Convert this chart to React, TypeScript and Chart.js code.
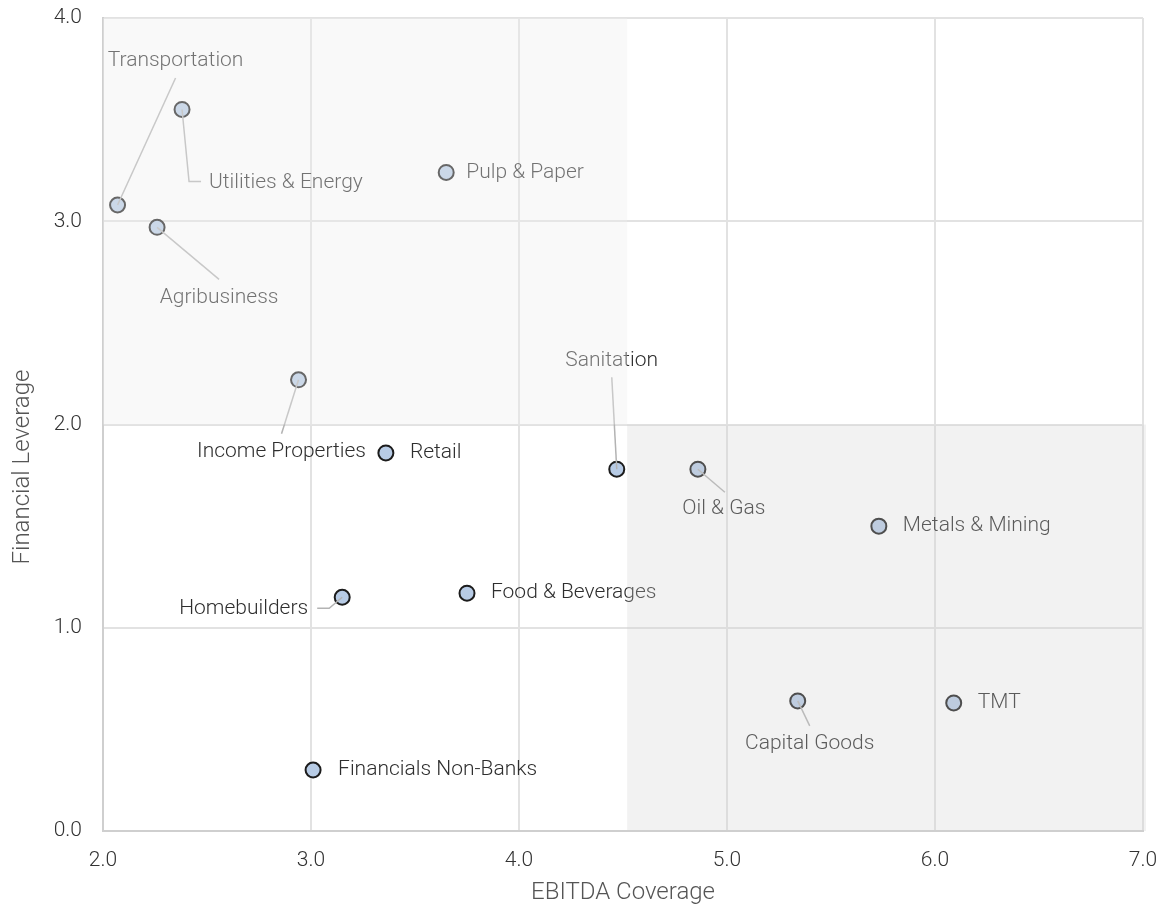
import React, { useEffect, useRef } from "react";
import { Chart, registerables } from "chart.js";

Chart.register(...registerables);

// ---- data ----
const sectors = [
  "Transportation",
  "Utilities & Energy",
  "Agribusiness",
  "Pulp & Paper",
  "Income Properties",
  "Retail",
  "Sanitation",
  "Oil & Gas",
  "Metals & Mining",
  "Homebuilders",
  "Food & Beverages",
  "Capital Goods",
  "TMT",
  "Financials Non-Banks",
];
const ebitdaCoverage = [2.07, 2.38, 2.26, 3.65, 2.94, 3.36, 4.47, 4.86, 5.73, 3.15, 3.75, 5.34, 6.09, 3.01];
const financialLeverage = [3.08, 3.55, 2.97, 3.24, 2.22, 1.86, 1.78, 1.78, 1.5, 1.15, 1.17, 0.64, 0.63, 0.3];

const xAxisTitle = "EBITDA Coverage";
const yAxisTitle = "Financial Leverage";
const xMin = 2, xMax = 7, yMin = 0, yMax = 4;
const shadeSplitX = 4.52;
const shadeSplitY = 2.0;

// ---- label layout (pixel offsets from each point) ----
type Lay = { dx: number; dy: number; align: CanvasTextAlign; leader?: number[][] };
const labelLayout: Lay[] = [
  { dx: 58, dy: -144, align: "center", leader: [[58, -127]] },
  { dx: 27, dy: 73, align: "left", leader: [[7, 72], [19, 72]] },
  { dx: 62, dy: 70, align: "center", leader: [[62, 52]] },
  { dx: 20, dy: 0, align: "left" },
  { dx: -17, dy: 72, align: "center", leader: [[-17, 54]] },
  { dx: 24, dy: 0, align: "left" },
  { dx: -5, dy: -108, align: "center", leader: [[-5, -92]] },
  { dx: 26, dy: 40, align: "center", leader: [[27, 23]] },
  { dx: 24, dy: 0, align: "left" },
  { dx: -34, dy: 11, align: "right", leader: [[-13, 11], [-25, 11]] },
  { dx: 24, dy: 0, align: "left" },
  { dx: 12, dy: 43, align: "center", leader: [[12, 25]] },
  { dx: 24, dy: 0, align: "left" },
  { dx: 25, dy: 0, align: "left" },
];

const FONT = "Roboto, 'Noto Sans', sans-serif";
const FSIZE = 21;
const FWEIGHT = 300;
const TITLE_SIZE = 24;

const sectorPlugin = {
  id: "sectorLabels",
  afterDatasetsDraw(chart: any) {
    const ctx = chart.ctx as CanvasRenderingContext2D;
    const meta = chart.getDatasetMeta(0);
    ctx.save();
    meta.data.forEach((pt: any, i: number) => {
      const x = pt.x, y = pt.y;
      const lay = labelLayout[i];
      if (lay.leader) {
        ctx.beginPath();
        ctx.moveTo(x, y);
        lay.leader.forEach(([dx, dy]) => ctx.lineTo(x + dx, y + dy));
        ctx.strokeStyle = "#b3b3b3";
        ctx.lineWidth = 1.5;
        ctx.stroke();
      }
      ctx.font = `${FWEIGHT} ${FSIZE}px ${FONT}`;
      ctx.fillStyle = "#2e2e2e";
      ctx.textAlign = lay.align;
      ctx.textBaseline = "middle";
      ctx.fillText(sectors[i], x + lay.dx, y + lay.dy);
    });
    ctx.restore();
  },
  afterDraw(chart: any) {
    const ctx = chart.ctx as CanvasRenderingContext2D;
    const xs = chart.scales.x, ys = chart.scales.y;
    const area = chart.chartArea;
    const sx = xs.getPixelForValue(shadeSplitX);
    const sy = ys.getPixelForValue(shadeSplitY);
    const top = ys.getPixelForValue(yMax);
    ctx.save();
    ctx.fillStyle = "rgba(238,238,238,0.36)";
    ctx.fillRect(area.left, top, sx - area.left, sy - top);
    ctx.fillStyle = "rgba(210,210,210,0.28)";
    ctx.fillRect(sx, sy, area.right + 3 - sx, ys.getPixelForValue(yMin) - sy);

    // axis titles
    ctx.font = `${FWEIGHT} ${TITLE_SIZE}px ${FONT}`;
    ctx.fillStyle = "#555555";
    ctx.textAlign = "center";
    ctx.textBaseline = "middle";
    ctx.fillText(xAxisTitle, (area.left + area.right) / 2, area.bottom + 62);
    ctx.translate(23, area.bottom - 364);
    ctx.rotate(-Math.PI / 2);
    ctx.fillText(yAxisTitle, 0, 0);
    ctx.restore();
  },
};

export default function App() {
  const ref = useRef<HTMLCanvasElement | null>(null);
  useEffect(() => {
    if (!ref.current) return;
    const font = { family: FONT, size: FSIZE, weight: FWEIGHT as any };
    const chart = new Chart(ref.current, {
      type: "scatter",
      data: {
        datasets: [
          {
            label: "Sectors",
            data: ebitdaCoverage.map((x, i) => ({ x, y: financialLeverage[i] })),
            backgroundColor: "#b7cbe5",
            borderColor: "#1c1c1c",
            borderWidth: 2,
            pointRadius: 7.5,
            pointHoverRadius: 7.5,
          },
        ],
      },
      options: {
        animation: false,
        responsive: true,
        maintainAspectRatio: false,
        layout: { padding: { left: 0, top: 18, right: 17, bottom: 0 } },
        plugins: { legend: { display: false }, tooltip: { enabled: false } },
        scales: {
          x: {
            type: "linear",
            min: xMin,
            max: xMax,
            afterFit: (s: any) => {
              s.height = 79;
              s.paddingLeft = 0;
              s.paddingRight = 0;
            },
            ticks: {
              stepSize: 1,
              padding: 17,
              color: "#333",
              font,
              callback: (v: any) => Number(v).toFixed(1),
            },
            grid: { color: "#e2e2e2", lineWidth: 2, drawTicks: false },
            border: { color: "#cfcfcf", width: 2 },
            title: { display: false },
          },
          y: {
            type: "linear",
            min: yMin,
            max: yMax,
            afterFit: (s: any) => {
              s.width = 103;
              s.paddingTop = 0;
              s.paddingBottom = 0;
            },
            ticks: {
              stepSize: 1,
              padding: 21,
              color: "#333",
              font,
              callback: (v: any) => Number(v).toFixed(1),
            },
            grid: { color: "#e2e2e2", lineWidth: 2, drawTicks: false },
            border: { color: "#cfcfcf", width: 2 },
            title: { display: false },
          },
        },
      },
      plugins: [sectorPlugin],
    });
    return () => chart.destroy();
  }, []);
  return (
    <div style={{ position: "fixed", left: 0, top: 0, width: 1160, height: 910, background: "#fff" }}>
      <canvas ref={ref} />
    </div>
  );
}
